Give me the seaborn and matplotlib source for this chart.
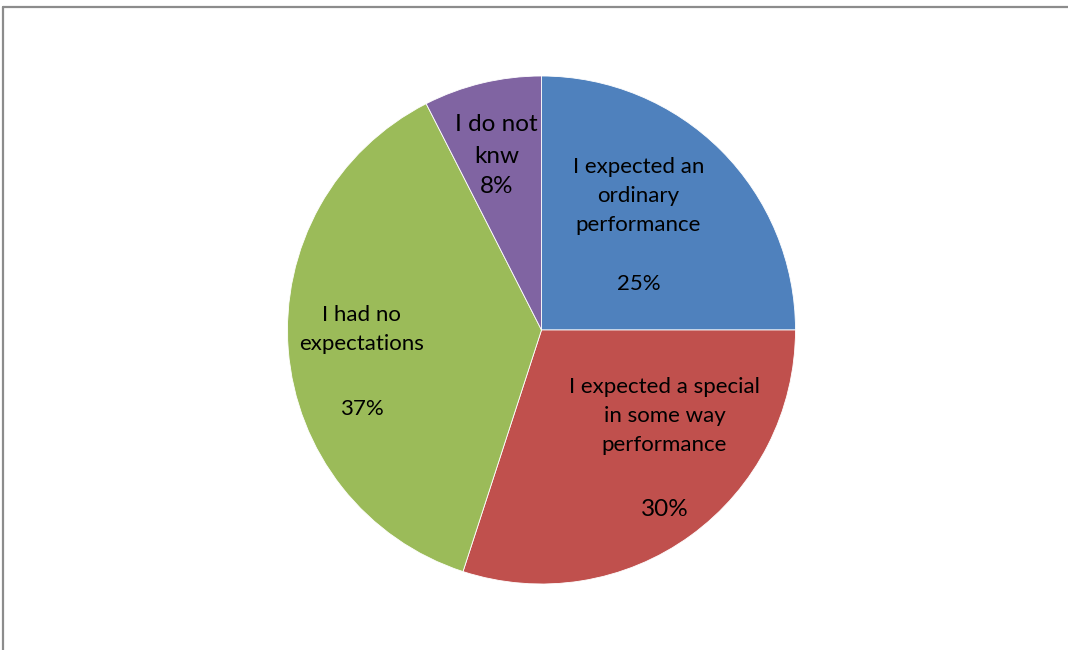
import numpy as np
import matplotlib
matplotlib.use("Agg")
import matplotlib.pyplot as plt
import seaborn as sns
from matplotlib.lines import Line2D

sns.set_theme(style="white")
plt.rcParams['font.family'] = ['Lato', 'DejaVu Sans']

# ------------------------------
# Data
# ------------------------------
categories = [
    "I expected an\nordinary\nperformance",
    "I expected a special\nin some way\nperformance",
    "I had no\nexpectations",
    "I do not\nknw",
]
shares = [25, 30, 37.5, 7.5]          # wedge sizes as drawn
pct_labels = ["25%", "30%", "37%", "8%"]  # labels as printed on the chart
colors = ["#4F81BD", "#C0504D", "#9BBB59", "#8064A2"]

# label offsets from the pie centre, in units of radius: (name x, name y, pct y)
name_pos = [(0.382, 0.528), (0.484, -0.339), (-0.709, 0.002), (-0.177, 0.746)]
pct_y = [0.181, -0.705, -0.311, 0.563]
name_size = [16, 16, 16, 17.5]
pct_size = [16, 17.5, 16, 17.5]
name_spacing = [1.55, 1.55, 1.55, 1.65]

# ------------------------------
# Figure
# ------------------------------
W, H = 1068, 650
fig = plt.figure(figsize=(W / 100, H / 100), dpi=100)
ax = fig.add_axes([0, 0, 1, 1])

cx, cy, R = 541.5, H - 330, 254
wedges, _ = ax.pie(
    shares,
    colors=colors,
    startangle=90,
    counterclock=False,
    center=(cx, cy),
    radius=R,
    wedgeprops=dict(edgecolor="white", linewidth=0.6),
    frame=True,
)
ax.set_xlim(0, W)
ax.set_ylim(0, H)
ax.set_aspect("equal")
ax.axis("off")

for i, (cat, pct) in enumerate(zip(categories, pct_labels)):
    nx, ny = name_pos[i]
    ax.text(cx + nx * R, cy + ny * R, cat, ha="center", va="center",
            fontsize=name_size[i], color="black", linespacing=name_spacing[i])
    ax.text(cx + nx * R, cy + pct_y[i] * R, pct, ha="center", va="center",
            fontsize=pct_size[i], color="black")

# chart frame (only top and left edges fall inside the image)
fig.add_artist(Line2D([3 / W, 3 / W], [0, 1 - 7 / H], transform=fig.transFigure,
                      color="#8c8c8c", lw=1.6))
fig.add_artist(Line2D([3 / W, 1], [1 - 7 / H, 1 - 7 / H], transform=fig.transFigure,
                      color="#8c8c8c", lw=1.6))

fig.savefig("out.png", dpi=100)
